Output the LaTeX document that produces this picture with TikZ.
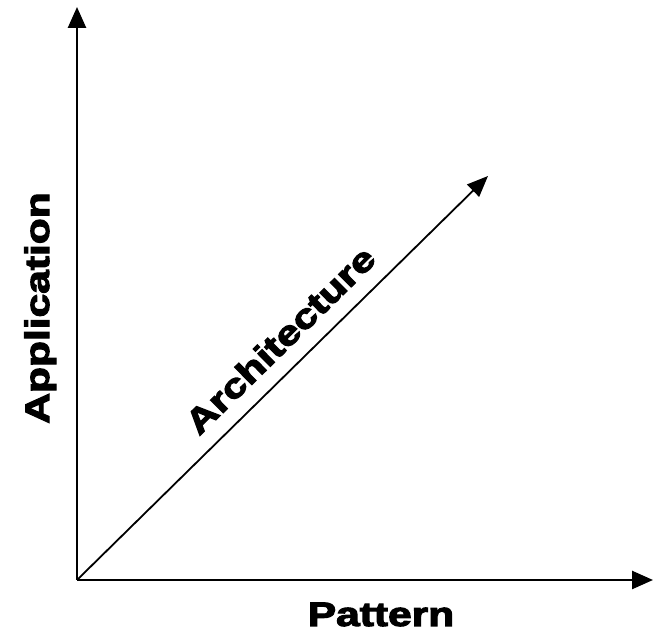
\documentclass[tikz,border=0pt]{standalone}
\usepackage{fontspec}
\setmainfont{Liberation Sans}[BoldFeatures={FakeBold=3}]
\usetikzlibrary{arrows.meta}
\newcommand{\widetext}[1]{\scalebox{1.25}[1]{#1}}
\begin{document}
\begin{tikzpicture}[x=1pt,y=1pt,
  axis/.style={line width=2.6pt,-{Triangle[length=21pt,width=18pt]}},
  diag/.style={line width=1.8pt,-{Triangle[length=21pt,width=17pt]}},
  lbl/.style={font=\fontsize{34}{38}\selectfont\bfseries, inner sep=0pt}]
\useasboundingbox (0,0) rectangle (656,631);
\coordinate (o) at (77,51);
\coordinate (ytip) at (77,624);
\coordinate (xtip) at (653,51);
\coordinate (dtip) at (488,455);
\draw[axis] (o) -- (ytip);
\draw[axis] (o) -- (xtip);
\draw[diag] (o) -- (dtip);
\node[lbl, rotate=90, anchor=base] (app) at (49,323) {\widetext{Application}};
\node[lbl, anchor=base] (pat) at (381,5) {\widetext{Pattern}};
\node[lbl, rotate=44.5] (arc) at (280,291) {\widetext{Architecture}};
\end{tikzpicture}
\end{document}
